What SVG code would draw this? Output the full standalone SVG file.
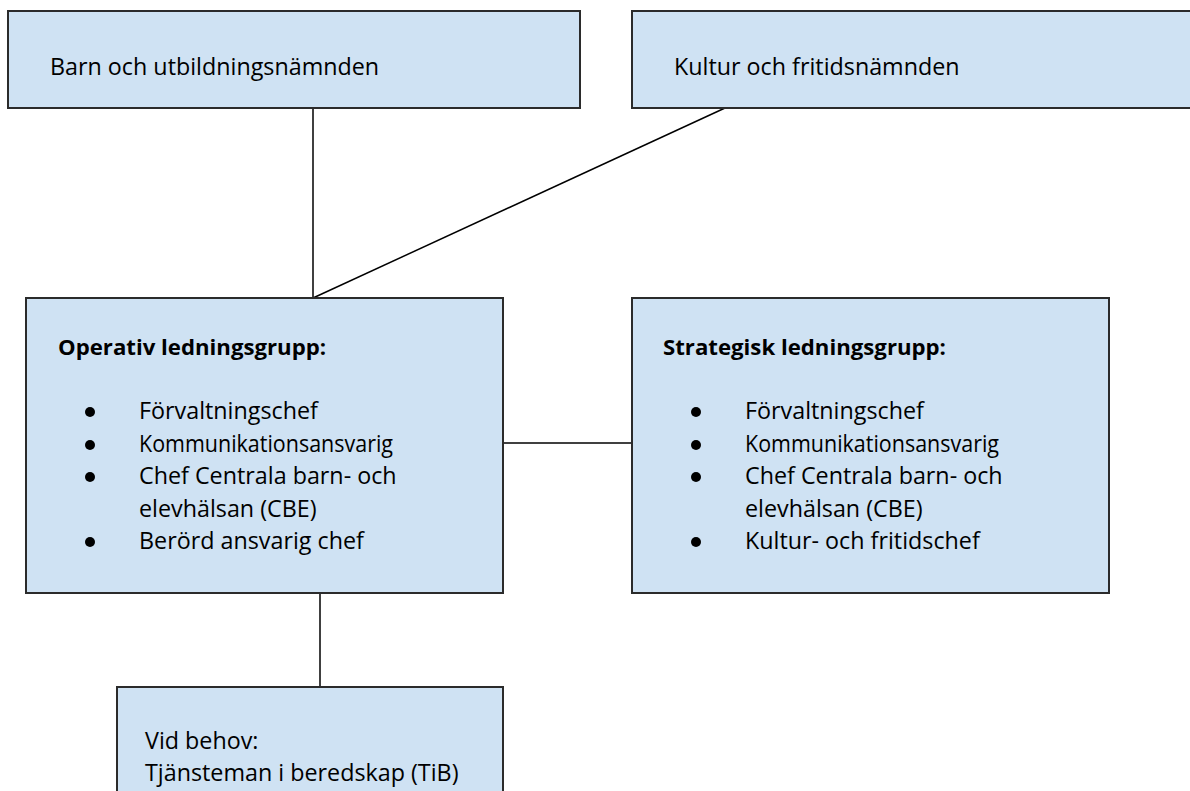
<svg xmlns="http://www.w3.org/2000/svg" width="1190" height="791" viewBox="0 0 1190 791">
<style>
.box{fill:#cfe2f3;stroke:#2b2b2b;stroke-width:2}
.t{font-family:"Open Sans","Noto Sans",sans-serif;font-size:23.3px;fill:#000}
.b{font-weight:bold;font-size:22.2px}
.conn line{stroke:#000;stroke-width:1.5}
.dot{fill:#000}
</style>
<rect width="1190" height="791" fill="#fff"/>
<g id="conn" class="conn">
<line x1="313" y1="108" x2="313" y2="298"/>
<line x1="725" y1="108" x2="313" y2="298"/>
<line x1="503" y1="443" x2="632" y2="443"/>
<line x1="320" y1="593" x2="320" y2="687"/>
</g>
<g id="barn">
<rect class="box" x="8" y="11" width="572" height="97"/>
<text class="t" x="50" y="75">Barn och utbildningsnämnden</text>
</g>
<g id="kultur">
<rect class="box" x="632" y="11" width="570" height="97"/>
<text class="t" x="674" y="75">Kultur och fritidsnämnden</text>
</g>
<g id="operativ">
<rect class="box" x="26" y="298" width="477" height="295"/>
<text class="t b" x="58" y="355">Operativ ledningsgrupp:</text>
<circle class="dot" cx="90" cy="412" r="5"/>
<circle class="dot" cx="90" cy="445" r="5"/>
<circle class="dot" cx="90" cy="477" r="5"/>
<circle class="dot" cx="90" cy="542" r="5"/>
<text class="t" x="139" y="419">Förvaltningschef</text>
<text class="t" x="139" y="452" textLength="254" lengthAdjust="spacingAndGlyphs">Kommunikationsansvarig</text>
<text class="t" x="139" y="484">Chef Centrala barn- och</text>
<text class="t" x="139" y="517">elevhälsan (CBE)</text>
<text class="t" x="139" y="549">Berörd ansvarig chef</text>
</g>
<g id="strategisk">
<rect class="box" x="632" y="298" width="477" height="295"/>
<text class="t b" x="663" y="355">Strategisk ledningsgrupp:</text>
<circle class="dot" cx="696" cy="412" r="5"/>
<circle class="dot" cx="696" cy="445" r="5"/>
<circle class="dot" cx="696" cy="477" r="5"/>
<circle class="dot" cx="696" cy="542" r="5"/>
<text class="t" x="745" y="419">Förvaltningschef</text>
<text class="t" x="745" y="452" textLength="254" lengthAdjust="spacingAndGlyphs">Kommunikationsansvarig</text>
<text class="t" x="745" y="484">Chef Centrala barn- och</text>
<text class="t" x="745" y="517">elevhälsan (CBE)</text>
<text class="t" x="745" y="549">Kultur- och fritidschef</text>
</g>
<g id="tib">
<rect class="box" x="117" y="687" width="386" height="120"/>
<text class="t" x="145" y="749">Vid behov:</text>
<text class="t" x="145" y="781">Tjänsteman i beredskap (TiB)</text>
</g>
</svg>
